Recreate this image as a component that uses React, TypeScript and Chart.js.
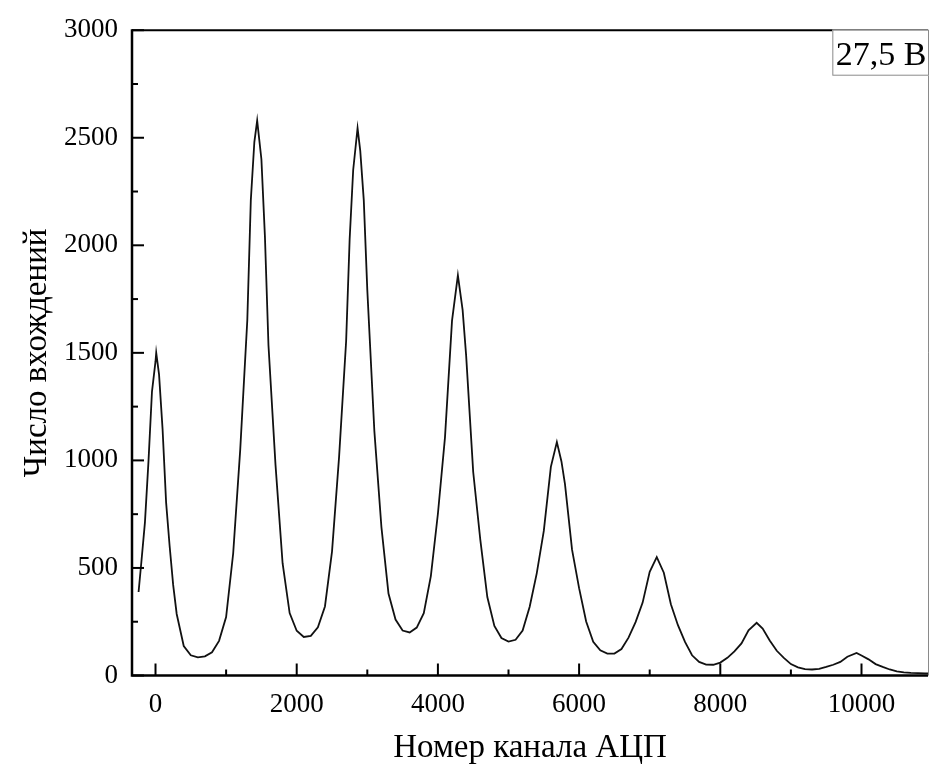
import React, { useEffect, useRef } from 'react';
import { Chart, registerables } from 'chart.js';

Chart.register(...registerables);

// ---- data ----
const channels = [
  -240, -200, -150, -100, -50, 0, 10, 50, 100, 150, 200, 250, 300, 400, 500, 600, 700, 800, 900,
  1000, 1100, 1200, 1300, 1350, 1400, 1440, 1500, 1550, 1600, 1700, 1800, 1900,
  2000, 2100, 2200, 2300, 2400, 2500, 2600, 2700, 2750, 2800, 2862, 2900, 2950,
  3000, 3100, 3200, 3300, 3400, 3500, 3600, 3700, 3800, 3900,
  4000, 4100, 4200, 4283, 4350, 4400, 4500, 4600, 4700, 4800, 4900,
  5000, 5100, 5200, 5300, 5400, 5500, 5600, 5685, 5750, 5800, 5900,
  6000, 6100, 6200, 6300, 6400, 6500, 6600, 6700, 6800, 6900,
  7000, 7100, 7200, 7300, 7400, 7500, 7600, 7700, 7800, 7900,
  8000, 8100, 8200, 8300, 8400, 8515, 8600, 8700, 8800, 8900,
  9000, 9100, 9200, 9300, 9400, 9500, 9600, 9700, 9800, 9930,
  10000, 10100, 10200, 10300, 10400, 10500, 10600, 10700, 10800, 10900, 10950,
];

const counts = [
  388, 529, 711, 993, 1320, 1460, 1500, 1400, 1146, 805, 602, 421, 286, 137, 94, 84, 89, 108, 161,
  272, 567, 1050, 1650, 2210, 2480, 2580, 2400, 2040, 1535, 978, 522, 290,
  208, 179, 184, 224, 321, 576, 1015, 1554, 2029, 2350, 2545, 2440, 2210,
  1792, 1136, 690, 381, 260, 209, 200, 223, 290, 462,
  752, 1106, 1650, 1860, 1700, 1487, 946, 633, 365, 230, 174,
  158, 166, 209, 320, 475, 672, 970, 1085, 995, 890, 585,
  406, 251, 157, 117, 102, 102, 123, 176, 248, 339,
  482, 550, 478, 331, 234, 156, 94, 63, 51, 50,
  60, 82, 112, 149, 210, 245, 218, 163, 115, 82,
  53, 38, 30, 28, 31, 40, 50, 63, 87, 105,
  93, 75, 53, 40, 28, 19, 15, 12, 11, 10, 10,
];

const xTickValues = [0, 1000, 2000, 3000, 4000, 5000, 6000, 7000, 8000, 9000, 10000];
const xLabelStep = 2000;
const yTickValues = [0, 250, 500, 750, 1000, 1250, 1500, 1750, 2000, 2250, 2500, 2750, 3000];
const yLabelStep = 500;

const xTitle = 'Номер канала АЦП';
const yTitle = 'Число вхождений';
const boxLabel = '27,5 В';

const FONT = "'Liberation Serif', 'DejaVu Serif', serif";

const framePlugin = {
  id: 'frameAndTicks',
  afterDraw(chart: any) {
    const { ctx, chartArea: a, scales } = chart;
    const xs = scales.x;
    const ys = scales.y;
    ctx.save();
    ctx.strokeStyle = '#000';
    ctx.lineWidth = 2;
    ctx.lineCap = 'butt';
    // inward ticks
    for (const v of xTickValues) {
      const px = xs.getPixelForValue(v);
      const len = v % xLabelStep === 0 ? 12 : 6;
      ctx.beginPath();
      ctx.moveTo(px, a.bottom);
      ctx.lineTo(px, a.bottom - len);
      ctx.stroke();
    }
    for (const v of yTickValues) {
      const py = ys.getPixelForValue(v);
      const len = v % yLabelStep === 0 ? 12 : 6;
      ctx.beginPath();
      ctx.moveTo(a.left, py);
      ctx.lineTo(a.left + len, py);
      ctx.stroke();
    }
    // right border (thin grey)
    ctx.strokeStyle = '#8a8a8a';
    ctx.lineWidth = 1;
    ctx.beginPath();
    ctx.moveTo(a.right + 0.5, a.top);
    ctx.lineTo(a.right + 0.5, a.bottom);
    ctx.stroke();
    // top border
    ctx.strokeStyle = '#000';
    ctx.lineWidth = 2;
    ctx.beginPath();
    ctx.moveTo(a.left, a.top);
    ctx.lineTo(a.right, a.top);
    ctx.stroke();
    // left & bottom axes
    ctx.lineWidth = 2.5;
    ctx.beginPath();
    ctx.moveTo(a.left, a.top - 1);
    ctx.lineTo(a.left, a.bottom);
    ctx.lineTo(a.right, a.bottom);
    ctx.stroke();
    // label box in the top-right corner
    ctx.font = `34px ${FONT}`;
    const tw = ctx.measureText(boxLabel).width;
    const bw = tw + 6;
    const bh = 46;
    const bx = a.right + 1 - bw;
    const by = a.top - 0.5;
    ctx.fillStyle = '#fff';
    ctx.fillRect(bx, by, bw, bh);
    ctx.strokeStyle = '#8a8a8a';
    ctx.lineWidth = 1;
    ctx.strokeRect(bx + 0.5, by + 0.5, bw - 1, bh - 1);
    ctx.fillStyle = '#000';
    ctx.textAlign = 'left';
    ctx.textBaseline = 'alphabetic';
    ctx.fillText(boxLabel, bx + 3.5, by + 35);
    ctx.restore();
  },
};

export default function App() {
  const ref = useRef<HTMLCanvasElement | null>(null);

  useEffect(() => {
    if (!ref.current) return;
    const points = channels.map((c, i) => ({ x: c, y: counts[i] }));
    const chart = new Chart(ref.current, {
      type: 'line',
      data: {
        datasets: [
          {
            data: points,
            borderColor: '#111',
            borderWidth: 1.8,
            pointRadius: 0,
            tension: 0,
            fill: false,
          },
        ],
      },
      options: {
        animation: false,
        responsive: false,
        devicePixelRatio: 1,
        layout: { padding: { top: 28.5, right: 3, left: 0, bottom: 0 } },
        plugins: {
          legend: { display: false },
          tooltip: { enabled: false },
        },
        scales: {
          x: {
            type: 'linear',
            min: -333,
            max: 10942,
            border: { display: false },
            grid: { display: false, drawTicks: false },
            afterBuildTicks: (scale: any) => {
              scale.ticks = xTickValues.map((v) => ({ value: v }));
            },
            afterFit: (scale: any) => {
              scale.height = 96.5;
            },
            ticks: {
              autoSkip: false,
              maxRotation: 0,
              padding: 13,
              color: '#000',
              font: { family: FONT, size: 27 },
              callback: (v: any) => (Number(v) % xLabelStep === 0 ? String(v) : ''),
            },
            title: {
              display: true,
              text: xTitle,
              color: '#000',
              font: { family: FONT, size: 33 },
              padding: { top: 0, bottom: 4 },
            },
          },
          y: {
            type: 'linear',
            min: 0,
            max: 3000,
            border: { display: false },
            grid: { display: false, drawTicks: false },
            afterBuildTicks: (scale: any) => {
              scale.ticks = yTickValues.map((v) => ({ value: v }));
            },
            afterFit: (scale: any) => {
              scale.width = 132;
            },
            ticks: {
              autoSkip: false,
              padding: 14,
              color: '#000',
              font: { family: FONT, size: 27 },
              callback: (v: any) => (Number(v) % yLabelStep === 0 ? String(v) : ''),
            },
            title: {
              display: true,
              text: yTitle,
              color: '#000',
              font: { family: FONT, size: 33 },
              padding: { top: 18, bottom: 0 },
            },
          },
        },
      },
      plugins: [framePlugin],
    });
    return () => chart.destroy();
  }, []);

  return (
    <div style={{ position: 'fixed', left: 0, top: 0, width: 931, height: 772, background: '#fff' }}>
      <canvas ref={ref} width={931} height={772} style={{ width: 931, height: 772, display: 'block' }} />
    </div>
  );
}
